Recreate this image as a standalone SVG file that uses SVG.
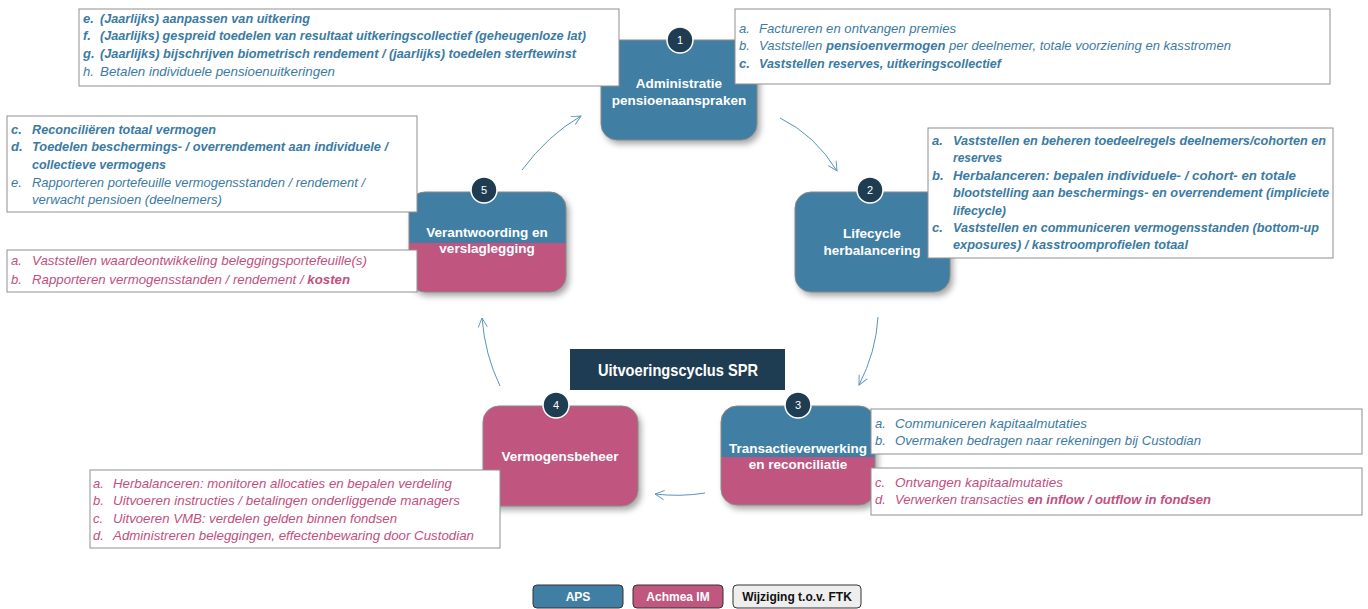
<svg xmlns="http://www.w3.org/2000/svg" width="1368" height="609" viewBox="0 0 1368 609">
<style>
.t{font-family:"Liberation Sans Narrow","Liberation Sans",Arial,sans-serif;font-size:13px;font-style:italic}
.b{font-weight:bold}
.bl{fill:#3B7BA3}
.pk{fill:#C24F80}
.box{fill:#fff;stroke:#8f8f8f;stroke-width:1}
.nd{font-family:"Liberation Sans",Arial,sans-serif;font-weight:bold;font-size:13.5px;fill:#fff;text-anchor:middle}
.blue{fill:#407FA3}
.pink{fill:#C0577F}
.edge{fill:none;stroke:#8a8a8a;stroke-width:1}
.num{fill:#1F3D52;stroke:#fff;stroke-width:1.5}
.numt{font-family:"Liberation Sans",Arial,sans-serif;font-size:11px;fill:#fff;text-anchor:middle}
.con{fill:none;stroke:#5A93B8;stroke-width:1}
.lg{font-family:"Liberation Sans",Arial,sans-serif;font-weight:bold;font-size:12px;text-anchor:middle}
</style>
<defs>
<filter id="sh" x="-20%" y="-20%" width="150%" height="150%">
<feDropShadow dx="3" dy="4" stdDeviation="3" flood-color="#000" flood-opacity="0.35"/>
</filter>
<marker id="ah" viewBox="0 0 12 12" refX="11" refY="6" markerWidth="11" markerHeight="11" markerUnits="userSpaceOnUse" orient="auto">
<path d="M1,1 L11,6 L1,11" fill="none" stroke="#5A93B8" stroke-width="1"/>
</marker>
</defs>
<rect width="1368" height="609" fill="#fff"/>

<g id="connectors">
<path class="con" d="M780,118 Q815,135 837,171" marker-end="url(#ah)"/>
<path class="con" d="M878,317 Q876,352 859,385" marker-end="url(#ah)"/>
<path class="con" d="M705,493 Q680,497 655,494" marker-end="url(#ah)"/>
<path class="con" d="M500,386 Q485,355 482,318" marker-end="url(#ah)"/>
<path class="con" d="M522,170 Q548,135 581,116" marker-end="url(#ah)"/>
</g>

<g id="node1">
<rect x="601" y="40" width="156" height="100" rx="16" class="blue" filter="url(#sh)"/>
<rect x="601" y="40" width="156" height="100" rx="16" class="edge"/>
<text class="nd" x="679" y="88">Administratie</text>
<text class="nd" x="679" y="105">pensioenaanspraken</text>
</g>
<g id="node2">
<rect x="795" y="192" width="155" height="100" rx="16" class="blue" filter="url(#sh)"/>
<rect x="795" y="192" width="155" height="100" rx="16" class="edge"/>
<text class="nd" x="872" y="238">Lifecycle</text>
<text class="nd" x="872" y="255">herbalancering</text>
</g>
<g id="node3">
<g filter="url(#sh)">
<rect x="721" y="406" width="154" height="99" rx="16" class="pink"/>
<path class="blue" d="M721,457 V422 A16,16 0 0 1 737,406 H859 A16,16 0 0 1 875,422 V457 Z"/>
</g>
<rect x="721" y="406" width="154" height="99" rx="16" class="edge"/>
<text class="nd" x="798" y="453">Transactieverwerking</text>
<text class="nd" x="798" y="469">en reconciliatie</text>
</g>
<g id="node4">
<rect x="483" y="406" width="155" height="100" rx="16" class="pink" filter="url(#sh)"/>
<rect x="483" y="406" width="155" height="100" rx="16" class="edge"/>
<text class="nd" x="560" y="461">Vermogensbeheer</text>
</g>
<g id="node5">
<g filter="url(#sh)">
<rect x="409" y="192" width="157" height="100" rx="16" class="pink"/>
<path class="blue" d="M409,243 V208 A16,16 0 0 1 425,192 H550 A16,16 0 0 1 566,208 V243 Z"/>
</g>
<rect x="409" y="192" width="157" height="100" rx="16" class="edge"/>
<text class="nd" x="487" y="237">Verantwoording en</text>
<text class="nd" x="487" y="253">verslaglegging</text>
</g>

<g id="box1L">
<rect class="box" x="79" y="9" width="540" height="77"/>
<text class="t b bl" x="83" y="22.5">e.</text>
<text class="t b bl" x="100" y="22.5" textLength="210" lengthAdjust="spacingAndGlyphs">(Jaarlijks) aanpassen van uitkering</text>
<text class="t b bl" x="83" y="40">f.</text>
<text class="t b bl" x="100" y="40" textLength="486" lengthAdjust="spacingAndGlyphs">(Jaarlijks) gespreid toedelen van resultaat uitkeringscollectief (geheugenloze lat)</text>
<text class="t b bl" x="83" y="57.5">g.</text>
<text class="t b bl" x="100" y="57.5" textLength="476" lengthAdjust="spacingAndGlyphs">(Jaarlijks) bijschrijven biometrisch rendement / (jaarlijks) toedelen sterftewinst</text>
<text class="t bl" x="83" y="75.5">h.</text>
<text class="t bl" x="100" y="75.5" textLength="235" lengthAdjust="spacingAndGlyphs">Betalen individuele pensioenuitkeringen</text>
</g>

<g id="box1R">
<rect class="box" x="735" y="9" width="595" height="75"/>
<text class="t bl" x="739" y="32.5">a.</text>
<text class="t bl" x="759" y="32.5" textLength="197" lengthAdjust="spacingAndGlyphs">Factureren en ontvangen premies</text>
<text class="t bl" x="739" y="49.5">b.</text>
<text class="t bl" x="759" y="49.5" textLength="472" lengthAdjust="spacingAndGlyphs">Vaststellen <tspan class="b">pensioenvermogen</tspan> per deelnemer, totale voorziening en kasstromen</text>
<text class="t b bl" x="739" y="67.5">c.</text>
<text class="t b bl" x="759" y="67.5" textLength="242" lengthAdjust="spacingAndGlyphs">Vaststellen reserves, uitkeringscollectief</text>
</g>

<g id="box2">
<rect class="box" x="928" y="128" width="405" height="130"/>
<text class="t b bl" x="932" y="144.5">a.</text>
<text class="t b bl" x="953" y="144.5" textLength="373" lengthAdjust="spacingAndGlyphs">Vaststellen en beheren toedeelregels deelnemers/cohorten en</text>
<text class="t b bl" x="953" y="161.5" textLength="49" lengthAdjust="spacingAndGlyphs">reserves</text>
<text class="t b bl" x="932" y="179.5">b.</text>
<text class="t b bl" x="953" y="179.5" textLength="343" lengthAdjust="spacingAndGlyphs">Herbalanceren: bepalen individuele- / cohort- en totale</text>
<text class="t b bl" x="953" y="196.5" textLength="376" lengthAdjust="spacingAndGlyphs">blootstelling aan beschermings- en overrendement (impliciete</text>
<text class="t b bl" x="953" y="214.5" textLength="53" lengthAdjust="spacingAndGlyphs">lifecycle)</text>
<text class="t b bl" x="932" y="231.5">c.</text>
<text class="t b bl" x="953" y="231.5" textLength="366" lengthAdjust="spacingAndGlyphs">Vaststellen en communiceren vermogensstanden (bottom-up</text>
<text class="t b bl" x="953" y="248.5" textLength="235" lengthAdjust="spacingAndGlyphs">exposures) / kasstroomprofielen totaal</text>
</g>

<g id="box3a">
<rect class="box" x="871" y="409" width="491" height="45"/>
<text class="t bl" x="875" y="427.5">a.</text>
<text class="t bl" x="895" y="427.5" textLength="192" lengthAdjust="spacingAndGlyphs">Communiceren kapitaalmutaties</text>
<text class="t bl" x="875" y="444.5">b.</text>
<text class="t bl" x="895" y="444.5" textLength="306" lengthAdjust="spacingAndGlyphs">Overmaken bedragen naar rekeningen bij Custodian</text>
</g>

<g id="box3b">
<rect class="box" x="871" y="468" width="491" height="47"/>
<text class="t pk" x="875" y="486.5">c.</text>
<text class="t pk" x="895" y="486.5" textLength="168" lengthAdjust="spacingAndGlyphs">Ontvangen kapitaalmutaties</text>
<text class="t pk" x="875" y="503.5">d.</text>
<text class="t pk" x="895" y="503.5" textLength="316" lengthAdjust="spacingAndGlyphs">Verwerken transacties <tspan class="b">en inflow / outflow in fondsen</tspan></text>
</g>

<g id="box4">
<rect class="box" x="90" y="470" width="410" height="78"/>
<text class="t pk" x="93" y="487.5">a.</text>
<text class="t pk" x="113" y="487.5" textLength="339" lengthAdjust="spacingAndGlyphs">Herbalanceren: monitoren allocaties en bepalen verdeling</text>
<text class="t pk" x="93" y="504.5">b.</text>
<text class="t pk" x="113" y="504.5" textLength="347" lengthAdjust="spacingAndGlyphs">Uitvoeren instructies / betalingen onderliggende managers</text>
<text class="t pk" x="93" y="522.5">c.</text>
<text class="t pk" x="113" y="522.5" textLength="284" lengthAdjust="spacingAndGlyphs">Uitvoeren VMB: verdelen gelden binnen fondsen</text>
<text class="t pk" x="93" y="539.5">d.</text>
<text class="t pk" x="113" y="539.5" textLength="361" lengthAdjust="spacingAndGlyphs">Administreren beleggingen, effectenbewaring door Custodian</text>
</g>

<g id="box5a">
<rect class="box" x="7" y="116" width="410" height="96"/>
<text class="t b bl" x="11" y="133.5">c.</text>
<text class="t b bl" x="32" y="133.5" textLength="184" lengthAdjust="spacingAndGlyphs">Reconciliëren totaal vermogen</text>
<text class="t b bl" x="11" y="150.5">d.</text>
<text class="t b bl" x="32" y="150.5" textLength="356" lengthAdjust="spacingAndGlyphs">Toedelen beschermings- / overrendement aan individuele /</text>
<text class="t b bl" x="32" y="168.5" textLength="134" lengthAdjust="spacingAndGlyphs">collectieve vermogens</text>
<text class="t bl" x="11" y="186.5">e.</text>
<text class="t bl" x="32" y="186.5" textLength="333" lengthAdjust="spacingAndGlyphs">Rapporteren portefeuille vermogensstanden / rendement /</text>
<text class="t bl" x="32" y="203.5" textLength="190" lengthAdjust="spacingAndGlyphs">verwacht pensioen (deelnemers)</text>
</g>

<g id="box5b">
<rect class="box" x="7" y="250" width="410" height="42"/>
<text class="t pk" x="11" y="264.5">a.</text>
<text class="t pk" x="32" y="264.5" textLength="335" lengthAdjust="spacingAndGlyphs">Vaststellen waardeontwikkeling beleggingsportefeuille(s)</text>
<text class="t pk" x="11" y="283.5">b.</text>
<text class="t pk" x="32" y="283.5" textLength="318" lengthAdjust="spacingAndGlyphs">Rapporteren vermogensstanden / rendement / <tspan class="b">kosten</tspan></text>
</g>

<g id="badges">
<circle class="num" cx="680" cy="40" r="13"/>
<text class="numt" x="680" y="44">1</text>
<circle class="num" cx="870" cy="190" r="13"/>
<text class="numt" x="870" y="194">2</text>
<circle class="num" cx="798" cy="405" r="13"/>
<text class="numt" x="798" y="409">3</text>
<circle class="num" cx="556" cy="405" r="13"/>
<text class="numt" x="556" y="409">4</text>
<circle class="num" cx="484" cy="190" r="13"/>
<text class="numt" x="484" y="194">5</text>
</g>

<g id="title">
<rect x="570" y="349" width="215" height="41" fill="#1F3D52"/>
<text x="678" y="376" font-family="Liberation Sans, Arial, sans-serif" font-weight="bold" font-size="16.5" fill="#fff" text-anchor="middle" textLength="160" lengthAdjust="spacingAndGlyphs">Uitvoeringscyclus SPR</text>
</g>

<g id="legend">
<rect x="533" y="585" width="90" height="23" rx="4" fill="#407FA3" stroke="#333" stroke-width="1"/>
<text class="lg" x="578" y="601" fill="#fff">APS</text>
<rect x="633" y="585" width="90" height="23" rx="4" fill="#C0577F" stroke="#333" stroke-width="1"/>
<text class="lg" x="678" y="601" fill="#fff">Achmea IM</text>
<rect x="733" y="585" width="128" height="23" rx="4" fill="#EEEEEE" stroke="#333" stroke-width="1"/>
<text class="lg" x="797" y="601" fill="#111">Wijziging t.o.v. FTK</text>
</g>
</svg>
